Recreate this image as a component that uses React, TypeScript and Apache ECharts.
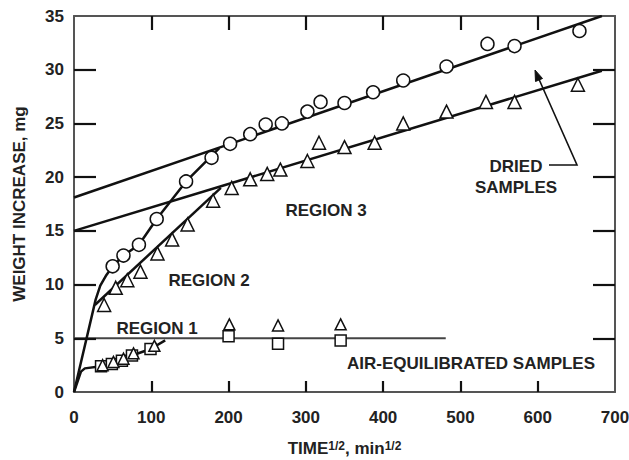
import React, { useEffect, useRef } from "react";
import * as echarts from "echarts";

// ---- data ----
const xTickValues = [0, 100, 200, 300, 400, 500, 600, 700];
const yTickValues = [0, 5, 10, 15, 20, 25, 30, 35];

const driedCircleX = [50, 64, 84, 107, 145, 178, 202, 228, 248, 269, 302, 319, 350, 387, 426, 482, 535, 570, 654];
const driedCircleY = [11.7, 12.7, 13.7, 16.1, 19.6, 21.8, 23.1, 24.0, 24.9, 25.0, 26.1, 27.0, 26.9, 27.9, 29.0, 30.3, 32.4, 32.2, 33.6];

const driedTriangleX = [39, 54, 69, 86, 108, 127, 147, 180, 204, 228, 250, 267, 302, 317, 350, 389, 426, 482, 533, 570, 652];
const driedTriangleY = [8.1, 9.7, 10.4, 11.2, 12.9, 14.2, 15.6, 17.8, 19.0, 19.8, 20.3, 20.7, 21.5, 23.2, 22.8, 23.2, 25.0, 26.1, 27.0, 27.0, 28.6];

const airSquareX = [35, 49, 62, 75, 99, 200, 264, 345];
const airSquareY = [2.4, 2.6, 2.9, 3.4, 4.0, 5.2, 4.5, 4.8];

const airTriangleX = [37, 51, 64, 77, 104, 201, 264, 345];
const airTriangleY = [2.5, 2.8, 3.1, 3.6, 4.3, 6.3, 6.2, 6.3];

const region3UpperX = [0, 683];
const region3UpperY = [18.1, 35];
const region3LowerX = [0, 683];
const region3LowerY = [15, 29.9];
const region2CircleX = [0, 28, 34, 42, 50, 64, 84, 107, 145, 188];
const region2CircleY = [0, 8.6, 9.9, 10.9, 11.7, 12.7, 13.7, 16.1, 19.6, 22.7];
const region2TriangleX = [27, 190];
const region2TriangleY = [8.1, 19.0];
const region1X = [0, 9, 14, 35, 49, 62, 75, 99, 118];
const region1Y = [0, 1.9, 2.2, 2.4, 2.6, 2.9, 3.4, 4.0, 4.8];
const airLevelX = [0, 481];
const airLevelY = [5, 5];

const zip = (xs: number[], ys: number[]) => xs.map((x, i) => [x, ys[i]]);

const FONT = "'Liberation Sans', Arial, sans-serif";
const INK = "#111";
const FRAME = "#555";
const FS = 17;

const W = 629;
const H = 460;
const GRID = { left: 74, right: 14, top: 16, bottom: 68 };

export default function App() {
  const ref = useRef<HTMLDivElement>(null);
  useEffect(() => {
    if (!ref.current) return;
    const chart = echarts.init(ref.current, undefined, { renderer: "svg" });
    const lineSeries = (xs: number[], ys: number[], color = INK, width = 2.5) => ({
      type: "line",
      data: zip(xs, ys),
      symbol: "none",
      lineStyle: { color, width },
      silent: true,
      z: 2,
    });
    const scatter = (xs: number[], ys: number[], symbol: string, size: number) => ({
      type: "scatter",
      data: zip(xs, ys),
      symbol,
      symbolSize: size,
      itemStyle: { color: "#fff", borderColor: INK, borderWidth: 1.5, opacity: 1 },
      z: 3,
    });
    const textStyle = { fontFamily: FONT, fontSize: FS, fontWeight: "bold", fill: "#222" };
    const label = (text: string, x: number, y: number) => ({
      type: "text",
      x,
      y,
      style: { ...textStyle, text, align: "center", verticalAlign: "middle" },
      z: 10,
    });
    const frameAxis = { show: true, onZero: false, lineStyle: { color: FRAME, width: 2 } };

    const xMin = xTickValues[0];
    const xMax = xTickValues[xTickValues.length - 1];
    const yMin = yTickValues[0];
    const yMax = yTickValues[yTickValues.length - 1];
    // inward tick lengths (pixels) expressed in axis units of the fixed grid
    const plotW = W - GRID.left - GRID.right;
    const plotH = H - GRID.top - GRID.bottom;
    const yUnitsPerPx = (yMax - yMin) / plotH;
    const xUnitsPerPx = (xMax - xMin) / plotW;
    const tickSegs: any[] = [];
    xTickValues.slice(1, -1).forEach((v) => {
      tickSegs.push([{ coord: [v, yMin] }, { coord: [v, yMin + 11 * yUnitsPerPx] }]);
      tickSegs.push([{ coord: [v, yMax] }, { coord: [v, yMax - 14 * yUnitsPerPx] }]);
    });
    yTickValues.slice(1, -1).forEach((v) => {
      tickSegs.push([{ coord: [xMin, v] }, { coord: [xMin + 22 * xUnitsPerPx, v] }]);
      tickSegs.push([{ coord: [xMax, v] }, { coord: [xMax - 22 * xUnitsPerPx, v] }]);
    });

    chart.setOption({
      animation: false,
      backgroundColor: "#fff",
      grid: { ...GRID, containLabel: false, outerBoundsMode: "none" },
      xAxis: [
        {
          type: "value",
          min: xMin,
          max: xMax,
          interval: 100,
          position: "bottom",
          axisLine: frameAxis,
          axisTick: { show: false },
          splitLine: { show: false },
          axisLabel: { margin: 17, fontFamily: FONT, fontSize: FS, fontWeight: "bold", color: "#222" },
          name: "{b|TIME}{s|1/2}{b|, min}{s|1/2}",
          nameLocation: "middle",
          nameGap: 48,
          nameTextStyle: {
            rich: {
              b: { fontFamily: FONT, fontSize: FS, fontWeight: "bold", color: "#222", verticalAlign: "bottom" },
              s: { fontFamily: FONT, fontSize: 12, fontWeight: "bold", color: "#222", verticalAlign: "top" },
            },
          },
        },
        {
          type: "value",
          min: xMin,
          max: xMax,
          interval: 100,
          position: "top",
          axisLine: frameAxis,
          axisTick: { show: false },
          axisLabel: { show: false },
          splitLine: { show: false },
        },
      ],
      yAxis: [
        {
          type: "value",
          min: yMin,
          max: yMax,
          interval: 5,
          position: "left",
          axisLine: frameAxis,
          axisTick: { show: false },
          splitLine: { show: false },
          axisLabel: { margin: 10, fontFamily: FONT, fontSize: FS, fontWeight: "bold", color: "#222" },
          name: "WEIGHT INCREASE, mg",
          nameLocation: "middle",
          nameGap: 46,
          nameTextStyle: { fontFamily: FONT, fontSize: FS, fontWeight: "bold", color: "#222" },
        },
        {
          type: "value",
          min: yMin,
          max: yMax,
          interval: 5,
          position: "right",
          axisLine: frameAxis,
          axisTick: { show: false },
          axisLabel: { show: false },
          splitLine: { show: false },
        },
      ],
      series: [
        {
          type: "line",
          data: [],
          symbol: "none",
          silent: true,
          clip: false,
          z: 5,
          markLine: {
            silent: true,
            symbol: ["none", "none"],
            label: { show: false },
            lineStyle: { color: INK, width: 2.2, type: "solid", opacity: 1 },
            emphasis: { disabled: true },
            data: tickSegs,
          },
        },
        lineSeries(airLevelX, airLevelY, "#444", 2),
        lineSeries(region1X, region1Y),
        lineSeries(region2CircleX, region2CircleY),
        lineSeries(region2TriangleX, region2TriangleY),
        lineSeries(region3UpperX, region3UpperY),
        lineSeries(region3LowerX, region3LowerY),
        scatter(driedCircleX, driedCircleY, "circle", 13),
        scatter(driedTriangleX, driedTriangleY, "triangle", 13),
        scatter(airSquareX, airSquareY, "rect", 11),
        scatter(airTriangleX, airTriangleY, "triangle", 11),
      ],
      graphic: [
        label("REGION 1", 157, 328),
        label("REGION 2", 209, 280),
        label("REGION 3", 326, 210),
        label("DRIED", 516, 166),
        label("SAMPLES", 516, 187),
        label("AIR-EQUILIBRATED SAMPLES", 471, 363),
        {
          type: "polyline",
          shape: { points: [[549, 165], [577, 165], [538, 77]] },
          style: { stroke: INK, lineWidth: 1.6, fill: "none" },
          z: 10,
        },
        {
          type: "polygon",
          shape: { points: [[535, 70], [542.5, 78.5], [535.5, 81.5]] },
          style: { fill: INK, stroke: INK, lineWidth: 1 },
          z: 10,
        },
      ],
    });
    return () => chart.dispose();
  }, []);
  return (
    <div
      ref={ref}
      style={{ position: "fixed", left: 0, top: 0, width: W, height: H, background: "#fff" }}
    />
  );
}
